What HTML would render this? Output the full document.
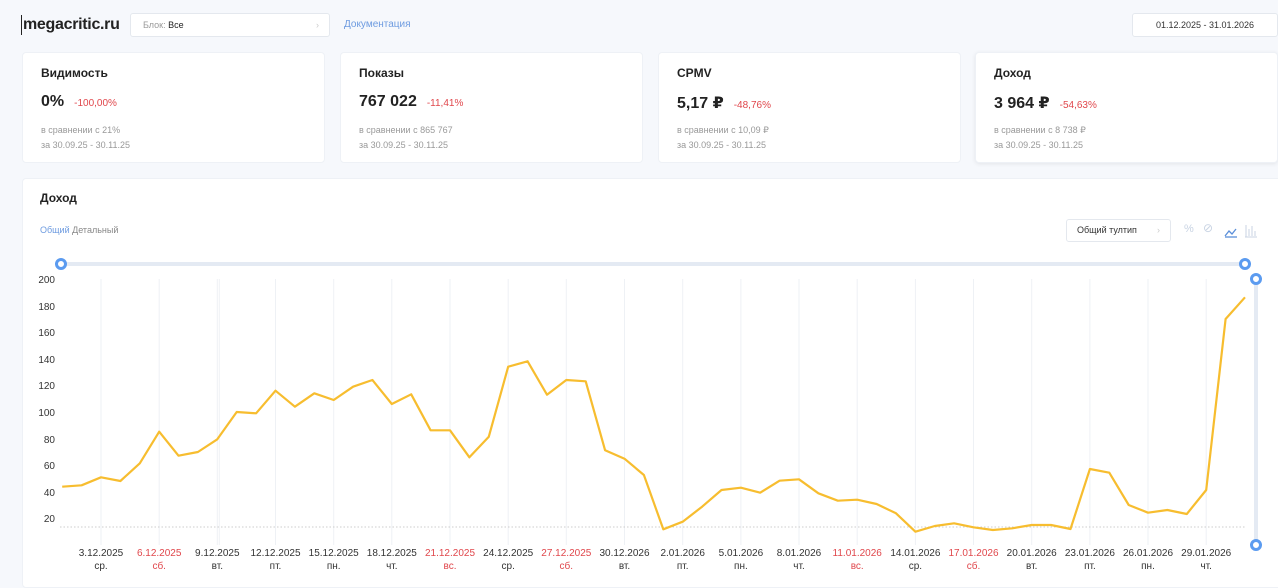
<!DOCTYPE html>
<html><head><meta charset="utf-8"><style>
*{margin:0;padding:0;box-sizing:border-box}
body{width:1278px;height:580px;background:#f6f8fc;font-family:"Liberation Sans","DejaVu Sans",sans-serif;position:relative;overflow:hidden;color:#222}
.abs{position:absolute}
.card{position:absolute;background:#fff;border-radius:4px;border:1px solid #eef1f6}
.ct{position:absolute;left:18px;top:13px;font-size:12px;font-weight:bold;color:#222}
.cv{position:absolute;left:18px;top:40px;font-size:16px;font-weight:bold;color:#222;white-space:nowrap}
.cv span{font-size:10px;font-weight:normal;color:#e0474c;margin-left:10px}
.cs{position:absolute;left:18px;top:70px;font-size:9px;color:#999;line-height:15px}
.box{position:absolute;background:#fff;border:1px solid #e4e8ee;border-radius:3px;font-size:9px}
</style></head><body>
<div class="abs" style="left:21px;top:15px;font-size:16px;font-weight:bold;color:#222;border-left:1px solid #222;padding-left:1px;line-height:20px;letter-spacing:-0.3px">megacritic.ru</div>
<div class="box" style="left:130px;top:13px;width:200px;height:24px;line-height:22px;padding-left:12px"><span style="color:#999">Блок:</span> Все<span style="position:absolute;right:10px;color:#ccc">›</span></div>
<div class="abs" style="left:344px;top:19px;font-size:10px;color:#6d9be0">Документация</div>
<div class="box" style="left:1132px;top:13px;width:146px;height:24px;line-height:22px;text-align:center;color:#333">01.12.2025 - 31.01.2026</div>

<div class="card" style="left:22px;top:52px;width:303px;height:111px"><div class="ct">Видимость</div><div class="cv">0%<span>-100,00%</span></div><div class="cs">в сравнении с 21%<br>за 30.09.25 - 30.11.25</div></div>
<div class="card" style="left:340px;top:52px;width:303px;height:111px"><div class="ct">Показы</div><div class="cv">767 022<span>-11,41%</span></div><div class="cs">в сравнении с 865 767<br>за 30.09.25 - 30.11.25</div></div>
<div class="card" style="left:658px;top:52px;width:303px;height:111px"><div class="ct">CPMV</div><div class="cv">5,17 ₽<span>-48,76%</span></div><div class="cs">в сравнении с 10,09 ₽<br>за 30.09.25 - 30.11.25</div></div>
<div class="card" style="left:975px;top:52px;width:303px;height:111px;box-shadow:0 1px 4px rgba(0,0,0,.08)"><div class="ct">Доход</div><div class="cv">3 964 ₽<span>-54,63%</span></div><div class="cs">в сравнении с 8 738 ₽<br>за 30.09.25 - 30.11.25</div></div>

<div class="card" style="left:22px;top:178px;width:1260px;height:410px"></div>
<div class="abs" style="left:40px;top:191px;font-size:12px;font-weight:bold">Доход</div>
<div class="abs" style="left:40px;top:225px;font-size:9px;color:#6d9be0">Общий <span style="color:#888">Детальный</span></div>
<div class="box" style="left:1066px;top:219px;width:105px;height:23px;line-height:21px;padding-left:10px;color:#333">Общий тултип<span style="position:absolute;right:10px;color:#ccc">›</span></div>
<div class="abs" style="left:1184px;top:223px;font-size:11px;color:#c8d3e3">%</div>
<div class="abs" style="left:1203px;top:221px;font-size:12px;color:#c8d3e3">⊘</div>

<svg class="abs" style="left:0;top:0" width="1278" height="580">
<g stroke="#5b8fd9" stroke-width="1.3" fill="none"><polyline points="1225,236 1229,231 1232,234 1236,229"/><line x1="1225" y1="237" x2="1237" y2="237"/></g>
<g stroke="#c8d3e3" stroke-width="1"><line x1="1246" y1="225" x2="1246" y2="237"/><line x1="1249" y1="229" x2="1249" y2="236"/><line x1="1252" y1="226" x2="1252" y2="236"/><line x1="1255" y1="231" x2="1255" y2="236"/><line x1="1245" y1="237" x2="1257" y2="237"/></g>
<line x1="61" y1="264" x2="1245" y2="264" stroke="#e4eaf3" stroke-width="4"/>
<line x1="1256" y1="277" x2="1256" y2="545" stroke="#e4eaf3" stroke-width="4"/>
<g fill="#fff" stroke="#5b9bf0" stroke-width="3"><circle cx="61" cy="264" r="4.5"/><circle cx="1245" cy="264" r="4.5"/><circle cx="1256" cy="279" r="4.5"/><circle cx="1256" cy="545" r="4.5"/></g>
<g stroke="#eef1f5" stroke-width="1">
<line x1="101" y1="279" x2="101" y2="545"/><line x1="159.2" y1="279" x2="159.2" y2="545"/><line x1="217.3" y1="279" x2="217.3" y2="545"/><line x1="219.3" y1="279" x2="219.3" y2="545"/><line x1="275.5" y1="279" x2="275.5" y2="545"/><line x1="333.7" y1="279" x2="333.7" y2="545"/><line x1="391.8" y1="279" x2="391.8" y2="545"/><line x1="450" y1="279" x2="450" y2="545"/><line x1="508.2" y1="279" x2="508.2" y2="545"/><line x1="566.3" y1="279" x2="566.3" y2="545"/><line x1="624.5" y1="279" x2="624.5" y2="545"/><line x1="682.7" y1="279" x2="682.7" y2="545"/><line x1="740.9" y1="279" x2="740.9" y2="545"/><line x1="799" y1="279" x2="799" y2="545"/><line x1="857.2" y1="279" x2="857.2" y2="545"/><line x1="915.4" y1="279" x2="915.4" y2="545"/><line x1="973.5" y1="279" x2="973.5" y2="545"/><line x1="1031.7" y1="279" x2="1031.7" y2="545"/><line x1="1089.9" y1="279" x2="1089.9" y2="545"/><line x1="1148" y1="279" x2="1148" y2="545"/><line x1="1206.2" y1="279" x2="1206.2" y2="545"/>
</g>
<line x1="60" y1="527" x2="1245" y2="527" stroke="#ccc" stroke-dasharray="1.5,2"/>
<g font-size="10" fill="#333" text-anchor="end">
<text x="55" y="283">200</text><text x="55" y="310">180</text><text x="55" y="336">160</text><text x="55" y="363">140</text><text x="55" y="389">120</text><text x="55" y="416">100</text><text x="55" y="443">80</text><text x="55" y="469">60</text><text x="55" y="496">40</text><text x="55" y="522">20</text>
</g>
<polyline fill="none" stroke="#f7bd2f" stroke-width="2.2" stroke-linejoin="round" points="62.2,486.7 81.6,485.3 101,477.3 120.4,481 139.8,463.3 159.2,431.7 178.5,455.7 197.9,452 217.3,439.3 236.7,412 256.1,413.3 275.5,390.7 294.9,406.7 314.3,393.3 333.7,400 353.1,386.7 372.4,380 391.8,404 411.2,394.3 430.6,430.3 450,430.3 469.4,457.3 488.8,436.7 508.2,366.7 527.6,361.3 547,394.7 566.3,380 585.7,381.3 605.1,450.3 624.5,458.7 643.9,475 663.3,529.3 682.7,521.7 702.1,506.7 721.5,490 740.9,487.7 760.2,492.7 779.6,480.7 799,479.3 818.4,493.3 837.8,500.7 857.2,499.7 876.6,504 896,513.3 915.4,531.7 934.8,526 954.1,523.3 973.5,527.3 992.9,530 1012.3,528.3 1031.7,525 1051.1,525 1070.5,529 1089.9,469 1109.3,472.7 1128.7,505 1148,512.7 1167.4,510 1186.8,514 1206.2,490 1225.6,319 1245,297.3"/>
<g font-size="10" text-anchor="middle" fill="#333">
<text x="101" y="556">3.12.2025</text><text x="101" y="569">ср.</text>
<text x="159.2" y="556" fill="#e0474c">6.12.2025</text><text x="159.2" y="569" fill="#e0474c">сб.</text>
<text x="217.3" y="556">9.12.2025</text><text x="217.3" y="569">вт.</text>
<text x="275.5" y="556">12.12.2025</text><text x="275.5" y="569">пт.</text>
<text x="333.7" y="556">15.12.2025</text><text x="333.7" y="569">пн.</text>
<text x="391.8" y="556">18.12.2025</text><text x="391.8" y="569">чт.</text>
<text x="450" y="556" fill="#e0474c">21.12.2025</text><text x="450" y="569" fill="#e0474c">вс.</text>
<text x="508.2" y="556">24.12.2025</text><text x="508.2" y="569">ср.</text>
<text x="566.3" y="556" fill="#e0474c">27.12.2025</text><text x="566.3" y="569" fill="#e0474c">сб.</text>
<text x="624.5" y="556">30.12.2026</text><text x="624.5" y="569">вт.</text>
<text x="682.7" y="556">2.01.2026</text><text x="682.7" y="569">пт.</text>
<text x="740.9" y="556">5.01.2026</text><text x="740.9" y="569">пн.</text>
<text x="799" y="556">8.01.2026</text><text x="799" y="569">чт.</text>
<text x="857.2" y="556" fill="#e0474c">11.01.2026</text><text x="857.2" y="569" fill="#e0474c">вс.</text>
<text x="915.4" y="556">14.01.2026</text><text x="915.4" y="569">ср.</text>
<text x="973.5" y="556" fill="#e0474c">17.01.2026</text><text x="973.5" y="569" fill="#e0474c">сб.</text>
<text x="1031.7" y="556">20.01.2026</text><text x="1031.7" y="569">вт.</text>
<text x="1089.9" y="556">23.01.2026</text><text x="1089.9" y="569">пт.</text>
<text x="1148" y="556">26.01.2026</text><text x="1148" y="569">пн.</text>
<text x="1206.2" y="556">29.01.2026</text><text x="1206.2" y="569">чт.</text>
</g>
</svg>
</body></html>
